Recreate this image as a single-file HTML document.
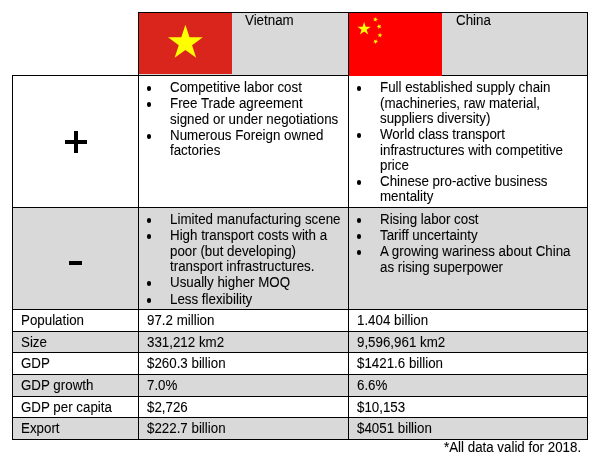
<!DOCTYPE html>
<html><head><meta charset="utf-8"><style>
html,body{margin:0;padding:0;background:#fff;width:608px;height:464px;overflow:hidden;position:relative}
body>div{position:absolute}
#w{position:absolute;left:0;top:0;width:608px;height:464px;will-change:transform}
#w>div{position:absolute}
.t{font-family:"Liberation Sans", sans-serif;font-size:14.0px;line-height:16px;color:#000;white-space:nowrap;transform:scaleX(0.9523571428571429);transform-origin:0 0;-webkit-text-stroke:0.08px #000}
.b{width:4.9px;height:5.1px;border-radius:50%;background:#000}
</style></head><body>
<div id="w">
<div style="left:139px;top:13px;width:209px;height:62px;background:#d9d9d9;"></div>
<div style="left:349px;top:13px;width:238px;height:62px;background:#d9d9d9;"></div>
<div style="left:13px;top:208px;width:574px;height:101px;background:#d9d9d9;"></div>
<div style="left:13px;top:332px;width:574px;height:20px;background:#d9d9d9;"></div>
<div style="left:13px;top:375px;width:574px;height:21px;background:#d9d9d9;"></div>
<div style="left:13px;top:418px;width:574px;height:21px;background:#d9d9d9;"></div>
<svg style="position:absolute;left:139px;top:13px" width="93" height="61" viewBox="0 0 93 61"><rect width="93" height="61" fill="#da251d"/><polygon fill="#ffff00" points="46.40,11.70 50.51,24.34 63.80,24.34 53.05,32.16 57.16,44.81 46.40,36.99 35.64,44.81 39.75,32.16 29.00,24.34 42.29,24.34"/></svg>
<svg style="position:absolute;left:349px;top:13px" width="93" height="63" viewBox="0 0 93 63"><rect width="93" height="63" fill="#ff0000"/><polygon fill="#ffff00" points="15.10,8.80 16.67,13.64 21.76,13.64 17.64,16.63 19.21,21.46 15.10,18.47 10.99,21.46 12.56,16.63 8.44,13.64 13.53,13.64"/><polygon fill="#ffff00" points="24.31,8.10 25.37,6.46 24.13,4.94 26.03,5.44 27.09,3.79 27.20,5.75 29.10,6.25 27.27,6.96 27.37,8.92 26.14,7.40"/><polygon fill="#ffff00" points="27.52,13.95 29.29,13.11 29.04,11.16 30.39,12.59 32.16,11.74 31.22,13.46 32.57,14.89 30.64,14.53 29.71,16.26 29.45,14.31"/><polygon fill="#ffff00" points="28.41,21.25 30.37,21.42 31.13,19.61 31.58,21.52 33.53,21.69 31.85,22.70 32.29,24.61 30.81,23.33 29.13,24.34 29.90,22.53"/><polygon fill="#ffff00" points="24.80,26.48 26.50,27.47 27.96,26.17 27.54,28.09 29.24,29.07 27.29,29.27 26.87,31.19 26.08,29.39 24.13,29.59 25.59,28.28"/></svg>
<div style="left:138px;top:12px;width:450px;height:1px;background:#000;"></div>
<div style="left:12px;top:75px;width:576px;height:1px;background:#000;"></div>
<div style="left:12px;top:207px;width:576px;height:1px;background:#000;"></div>
<div style="left:12px;top:309px;width:576px;height:1px;background:#000;"></div>
<div style="left:12px;top:331px;width:576px;height:1px;background:#000;"></div>
<div style="left:12px;top:352px;width:576px;height:1px;background:#000;"></div>
<div style="left:12px;top:374px;width:576px;height:1px;background:#000;"></div>
<div style="left:12px;top:396px;width:576px;height:1px;background:#000;"></div>
<div style="left:12px;top:417px;width:576px;height:1px;background:#000;"></div>
<div style="left:12px;top:439px;width:576px;height:1px;background:#000;"></div>
<div style="left:12px;top:75px;width:1px;height:365px;background:#000;"></div>
<div style="left:138px;top:12px;width:1px;height:428px;background:#000;"></div>
<div style="left:348px;top:12px;width:1px;height:428px;background:#000;"></div>
<div style="left:587px;top:12px;width:1px;height:428px;background:#000;"></div>
<svg style="position:absolute;left:349px;top:13px" width="93" height="63" viewBox="0 0 93 63"><rect width="93" height="63" fill="#ff0000"/><polygon fill="#ffff00" points="15.10,8.80 16.67,13.64 21.76,13.64 17.64,16.63 19.21,21.46 15.10,18.47 10.99,21.46 12.56,16.63 8.44,13.64 13.53,13.64"/><polygon fill="#ffff00" points="24.31,8.10 25.37,6.46 24.13,4.94 26.03,5.44 27.09,3.79 27.20,5.75 29.10,6.25 27.27,6.96 27.37,8.92 26.14,7.40"/><polygon fill="#ffff00" points="27.52,13.95 29.29,13.11 29.04,11.16 30.39,12.59 32.16,11.74 31.22,13.46 32.57,14.89 30.64,14.53 29.71,16.26 29.45,14.31"/><polygon fill="#ffff00" points="28.41,21.25 30.37,21.42 31.13,19.61 31.58,21.52 33.53,21.69 31.85,22.70 32.29,24.61 30.81,23.33 29.13,24.34 29.90,22.53"/><polygon fill="#ffff00" points="24.80,26.48 26.50,27.47 27.96,26.17 27.54,28.09 29.24,29.07 27.29,29.27 26.87,31.19 26.08,29.39 24.13,29.59 25.59,28.28"/></svg>
<div class="t" style="left:245px;top:12px;">Vietnam</div>
<div class="t" style="left:455.5px;top:12px;">China</div>
<div style="left:64.5px;top:140px;width:22.5px;height:4px;background:#000;"></div>
<div style="left:74px;top:131px;width:4px;height:22px;background:#000;"></div>
<div style="left:69px;top:261px;width:13px;height:4px;background:#000;"></div>
<div class="t" style="left:170px;top:79px;">Competitive labor cost</div>
<div class="t" style="left:170px;top:95px;">Free Trade agreement</div>
<div class="t" style="left:170px;top:111px;">signed or under negotiations</div>
<div class="t" style="left:170px;top:127px;">Numerous Foreign owned</div>
<div class="t" style="left:170px;top:142px;">factories</div>
<div class="b" style="left:146.5px;top:85.9px"></div>
<div class="b" style="left:146.5px;top:101.9px"></div>
<div class="b" style="left:146.5px;top:133.9px"></div>
<div class="t" style="left:380px;top:79px;">Full established supply chain</div>
<div class="t" style="left:380px;top:95px;">(machineries, raw material,</div>
<div class="t" style="left:380px;top:110px;">suppliers diversity)</div>
<div class="t" style="left:380px;top:126px;">World class transport</div>
<div class="t" style="left:380px;top:142px;">infrastructures with competitive</div>
<div class="t" style="left:380px;top:157px;">price</div>
<div class="t" style="left:380px;top:173px;">Chinese pro-active business</div>
<div class="t" style="left:380px;top:188px;">mentality</div>
<div class="b" style="left:356.5px;top:85.9px"></div>
<div class="b" style="left:356.5px;top:132.9px"></div>
<div class="b" style="left:356.5px;top:179.9px"></div>
<div class="t" style="left:170px;top:211px;">Limited manufacturing scene</div>
<div class="t" style="left:170px;top:227px;">High transport costs with a</div>
<div class="t" style="left:170px;top:243px;">poor (but developing)</div>
<div class="t" style="left:170px;top:258px;">transport infrastructures.</div>
<div class="t" style="left:170px;top:274px;">Usually higher MOQ</div>
<div class="t" style="left:170px;top:291px;">Less flexibility</div>
<div class="b" style="left:146.5px;top:217.9px"></div>
<div class="b" style="left:146.5px;top:233.9px"></div>
<div class="b" style="left:146.5px;top:280.9px"></div>
<div class="b" style="left:146.5px;top:297.9px"></div>
<div class="t" style="left:380px;top:211px;">Rising labor cost</div>
<div class="t" style="left:380px;top:227px;">Tariff uncertainty</div>
<div class="t" style="left:380px;top:243px;">A growing wariness about China</div>
<div class="t" style="left:380px;top:259px;">as rising superpower</div>
<div class="b" style="left:356.5px;top:217.9px"></div>
<div class="b" style="left:356.5px;top:233.9px"></div>
<div class="b" style="left:356.5px;top:249.9px"></div>
<div class="t" style="left:21px;top:312px;">Population</div>
<div class="t" style="left:146.5px;top:312px;">97.2 million</div>
<div class="t" style="left:356.5px;top:312px;">1.404 billion</div>
<div class="t" style="left:21px;top:334px;">Size</div>
<div class="t" style="left:146.5px;top:334px;">331,212 km2</div>
<div class="t" style="left:356.5px;top:334px;">9,596,961 km2</div>
<div class="t" style="left:21px;top:355px;">GDP</div>
<div class="t" style="left:146.5px;top:355px;">$260.3 billion</div>
<div class="t" style="left:356.5px;top:355px;">$1421.6 billion</div>
<div class="t" style="left:21px;top:377px;">GDP growth</div>
<div class="t" style="left:146.5px;top:377px;">7.0%</div>
<div class="t" style="left:356.5px;top:377px;">6.6%</div>
<div class="t" style="left:21px;top:399px;">GDP per capita</div>
<div class="t" style="left:146.5px;top:399px;">$2,726</div>
<div class="t" style="left:356.5px;top:399px;">$10,153</div>
<div class="t" style="left:21px;top:420px;">Export</div>
<div class="t" style="left:146.5px;top:420px;">$222.7 billion</div>
<div class="t" style="left:356.5px;top:420px;">$4051 billion</div>
<div class="t" style="left:443.5px;top:439px;">*All data valid for 2018.</div>
</div>
</body></html>
